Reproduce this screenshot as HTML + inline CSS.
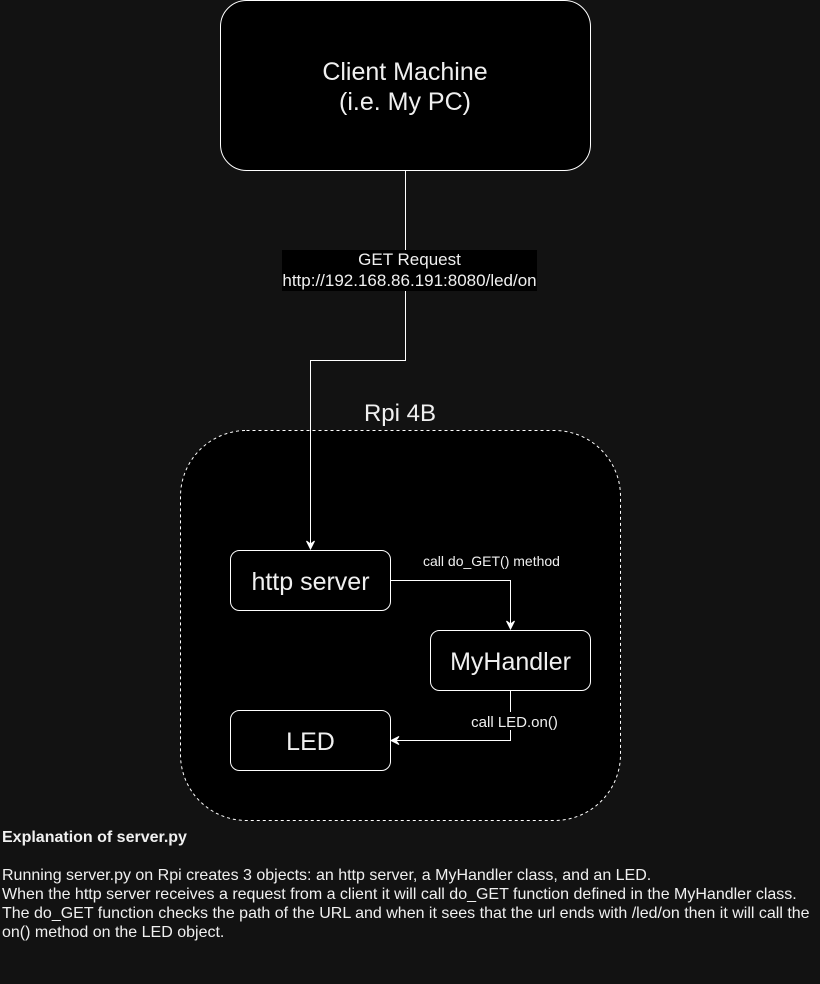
<!DOCTYPE html>
<html><head><meta charset="utf-8"><style>
html,body{margin:0;padding:0;background:#121212;width:820px;height:984px;overflow:hidden}
svg{position:absolute;left:0;top:0}
.t{font-family:"Liberation Sans",sans-serif;fill:#f0f0f0}
#exp{position:absolute;left:2px;top:828px;width:816px;font-family:"Liberation Sans",sans-serif;font-size:16px;color:#f0f0f0;line-height:19px}
</style></head><body>
<svg width="820" height="984" viewBox="0 0 820 984">
<rect x="220.5" y="0.5" width="370" height="170" rx="26" fill="#000" stroke="#fff" stroke-width="1"/>
<text class="t" x="405" y="80" font-size="25" text-anchor="middle">Client Machine</text>
<text class="t" x="405" y="110" font-size="25" text-anchor="middle">(i.e. My PC)</text>
<rect x="180.5" y="430.5" width="440" height="390" rx="66" fill="#000" stroke="#fff" stroke-dasharray="3 3"/>
<text class="t" x="400" y="421" font-size="24" text-anchor="middle">Rpi 4B</text>
<polyline points="405.5,170 405.5,360.5 310.5,360.5 310.5,546" fill="none" stroke="#fff"/>
<path d="M306.5,541 L310.5,549 L314.5,541 L310.5,544 Z" fill="#fff" stroke="#fff"/>
<rect x="282" y="250" width="255" height="41" fill="#000"/>
<text class="t" x="409.5" y="265" font-size="17" text-anchor="middle">GET Request</text>
<text class="t" x="409.5" y="286" font-size="17" text-anchor="middle">http://192.168.86.191:8080/led/on</text>
<rect x="230.5" y="550.5" width="160" height="60" rx="9" fill="#000" stroke="#fff"/>
<text class="t" x="310.5" y="590" font-size="25" text-anchor="middle">http server</text>
<rect x="430.5" y="630.5" width="160" height="60" rx="9" fill="#000" stroke="#fff"/>
<text class="t" x="510.5" y="670" font-size="25" text-anchor="middle">MyHandler</text>
<rect x="230.5" y="710.5" width="160" height="60" rx="9" fill="#000" stroke="#fff"/>
<text class="t" x="310.5" y="750" font-size="25" text-anchor="middle">LED</text>
<polyline points="390,580.5 510.5,580.5 510.5,626" fill="none" stroke="#fff"/>
<path d="M506.5,621 L510.5,629 L514.5,621 L510.5,624 Z" fill="#fff" stroke="#fff"/>
<text class="t" x="491.5" y="566" font-size="14" text-anchor="middle">call do_GET() method</text>
<polyline points="510.5,690 510.5,740.5 394,740.5" fill="none" stroke="#fff"/>
<path d="M399,736.5 L391,740.5 L399,744.5 L396,740.5 Z" fill="#fff" stroke="#fff"/>
<rect x="468" y="712" width="93" height="18" fill="#000"/>
<text class="t" x="514.5" y="727" font-size="15" text-anchor="middle">call LED.on()</text>
</svg>
<div id="exp"><b>Explanation of server.py</b><br><br>Running server.py on Rpi creates 3 objects: an http server, a MyHandler class, and an LED.<br>When the http server receives a request from a client it will call do_GET function defined in the MyHandler class.<br>The do_GET function checks the path of the URL and when it sees that the url ends with /led/on then it will call the on() method on the LED object.</div>
</body></html>
